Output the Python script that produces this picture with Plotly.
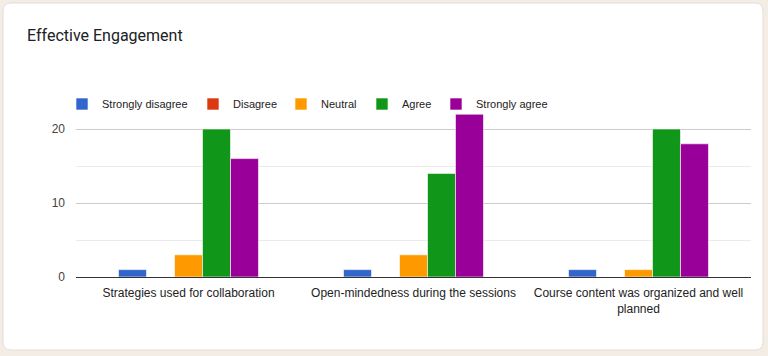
import plotly.graph_objects as go

categories = [
    "Strategies used for collaboration",
    "Open-mindedness during the sessions",
    "Course content was organized and well<br>planned",
]
series_names = ["Strongly disagree", "Disagree", "Neutral", "Agree", "Strongly agree"]
strongly_disagree = [1, 1, 1]
disagree = [0, 0, 0]
neutral = [3, 3, 1]
agree = [20, 14, 20]
strongly_agree = [16, 22, 18]
series_values = [strongly_disagree, disagree, neutral, agree, strongly_agree]
colors = ["#3366cc", "#dc3912", "#ff9900", "#109618", "#990099"]

W, H = 768, 356
L, R, T, B = 76, 17, 92, 79
PW, PH = W - L - R, H - T - B

def px(x):
    return (x - L) / PW

def py(y):
    return (H - B - y) / PH

legend_ids = ["legend", "legend2", "legend3", "legend4", "legend5"]
legend_starts = [75, 206, 294, 375, 449]

fig = go.Figure()
for name, vals, col, lid in zip(series_names, series_values, colors, legend_ids):
    fig.add_trace(go.Bar(
        x=categories, y=vals, name=name, legend=lid,
        marker=dict(color=col, line=dict(color="white", width=0.6)),
        hoverinfo="x+y+name",
    ))

# rounded white card
x0, y0, x1, y1, r = 3, 3, 763, 350, 8
path = (
    f"M {px(x0+r)},{py(y0)} L {px(x1-r)},{py(y0)} Q {px(x1)},{py(y0)} {px(x1)},{py(y0+r)} "
    f"L {px(x1)},{py(y1-r)} Q {px(x1)},{py(y1)} {px(x1-r)},{py(y1)} "
    f"L {px(x0+r)},{py(y1)} Q {px(x0)},{py(y1)} {px(x0)},{py(y1-r)} "
    f"L {px(x0)},{py(y0+r)} Q {px(x0)},{py(y0)} {px(x0+r)},{py(y0)} Z"
)

legends = {}
for lid, s in zip(legend_ids, legend_starts):
    legends[lid] = dict(orientation="h", x=px(s + 1), xanchor="left", y=py(104), yanchor="middle",
                        font=dict(size=11, color="#222222"), bgcolor="rgba(0,0,0,0)",
                        indentation=-14)

fig.update_layout(
    width=W, height=H,
    margin=dict(l=L, r=R, t=T, b=B, pad=0),
    paper_bgcolor="#f3ede6",
    plot_bgcolor="rgba(0,0,0,0)",
    shapes=[dict(type="path", path=path, xref="paper", yref="paper",
                 fillcolor="white", line=dict(color="#e2ddd8", width=1), layer="below")],
    title=dict(text="Effective Engagement", x=27 / W, xref="container", xanchor="left",
               y=1 - 35 / H, yref="container", yanchor="middle",
               font=dict(family="Roboto, Arial", size=16, color="#202124")),
    barmode="group",
    bargap=0.378,
    bargroupgap=0.0,
    font=dict(family="Liberation Sans, Arial", size=11, color="#222222"),
    showlegend=True,
    **legends,
)
fig.update_xaxes(showgrid=False, showline=False, ticks="", tickfont=dict(size=12, color="#222222"),
                 ticklabelstandoff=7)
fig.update_yaxes(range=[0, 25], tickvals=[0, 10, 20], ticktext=["0", "10", "20"],
                 showgrid=True, gridcolor="#cccccc", gridwidth=1,
                 minor=dict(tickvals=[5, 15, 25], showgrid=True, gridcolor="#ebebeb", gridwidth=1),
                 zeroline=True, zerolinecolor="#333333", zerolinewidth=1,
                 showline=False, ticks="", tickfont=dict(size=12, color="#444444"),
                 ticklabelstandoff=10)

fig.write_html("out.html", config={"displayModeBar": False},
               post_script="document.body.style.margin='0';")
